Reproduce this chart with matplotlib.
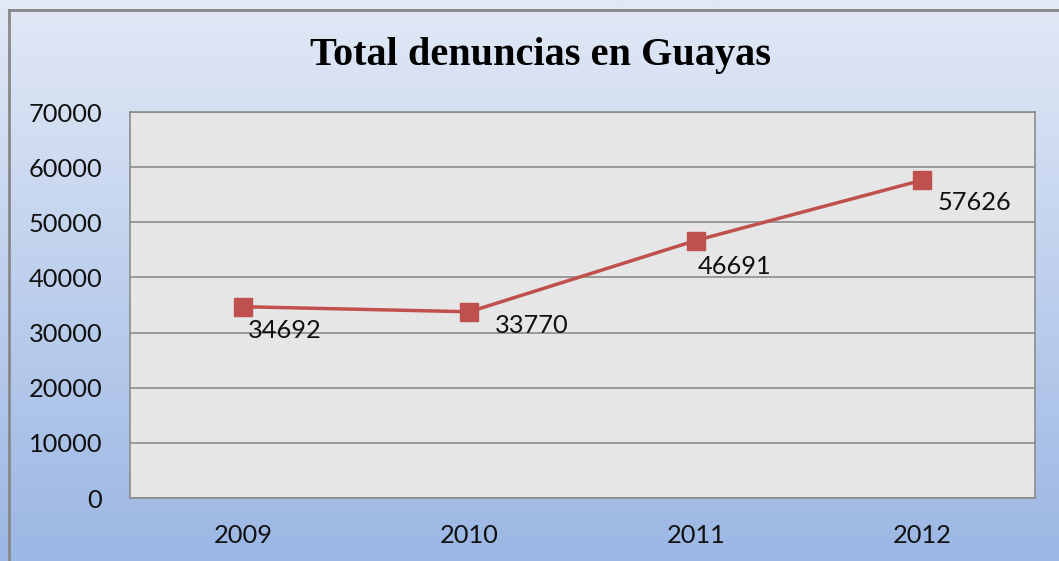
import numpy as np
import matplotlib
matplotlib.use("Agg")
import matplotlib.pyplot as plt
from matplotlib.lines import Line2D

years = ["2009", "2010", "2011", "2012"]
denuncias = [34692, 33770, 46691, 57626]
yticks = [0, 10000, 20000, 30000, 40000, 50000, 60000, 70000]
# label offsets in pixels (style)
label_dx = [5, 25, 2, 16]
label_dy = [-24, -14, -26, -22]

W, H = 1059, 561
fig = plt.figure(figsize=(W / 100, H / 100), dpi=100)

# gradient background
bg = fig.add_axes([0, 0, 1, 1], zorder=-10)
top = np.array([226, 233, 246]) / 255
bot = np.array([155, 183, 228]) / 255
t = np.linspace(0, 1, 256)[:, None]
grad = (top[None, :] * (1 - t) + bot[None, :] * t)[:, None, :]
bg.imshow(grad, aspect="auto", extent=[0, 1, 0, 1])
bg.set_xlim(0, 1); bg.set_ylim(0, 1)
bg.axis("off")

# frame (left and top visible)
fig.add_artist(Line2D([9 / W, 9 / W], [0, 1 - 10 / H], transform=fig.transFigure,
                      color="#888888", lw=2))
fig.add_artist(Line2D([9 / W, 1], [1 - 10 / H, 1 - 10 / H], transform=fig.transFigure,
                      color="#888888", lw=2))

ax = fig.add_axes([130 / W, 1 - 498 / H, (1035 - 130) / W, (498 - 112) / H])
ax.set_facecolor("#e6e6e6")
x = np.arange(len(years))
ax.plot(x, denuncias, color="#c0504d", lw=2.5, marker="s", ms=13,
        markerfacecolor="#c0504d", markeredgecolor="#c0504d", zorder=3)
for xi, v, dx, dy in zip(x, denuncias, label_dx, label_dy):
    ax.annotate(f"{v}", (xi, v), xytext=(dx, dy), textcoords="offset pixels",
                ha="left", va="center", fontsize=18.3, family="Lato", color="#111111")

ax.set_xlim(-0.5, len(years) - 0.5)
ax.set_ylim(0, 70000)
ax.set_yticks(yticks)
ax.set_yticklabels([str(v) for v in yticks], fontsize=18.3, family="Lato", color="#111111")
ax.set_xticks(x)
ax.set_xticklabels(years, fontsize=18.3, family="Lato", color="#111111")
ax.tick_params(axis="y", length=0, pad=20)
ax.tick_params(axis="x", length=0, pad=19)
ax.grid(axis="y", color="#8c8c8c", lw=1.2)
ax.set_axisbelow(True)
for s in ax.spines.values():
    s.set_color("#8c8c8c")
    s.set_linewidth(1.2)

fig.text(540 / W, 1 - 55 / H, "Total denuncias en Guayas", ha="center", va="center",
         fontsize=29, fontweight="bold", family="Liberation Serif", color="#000000")

fig.savefig("out.png", dpi=100)
